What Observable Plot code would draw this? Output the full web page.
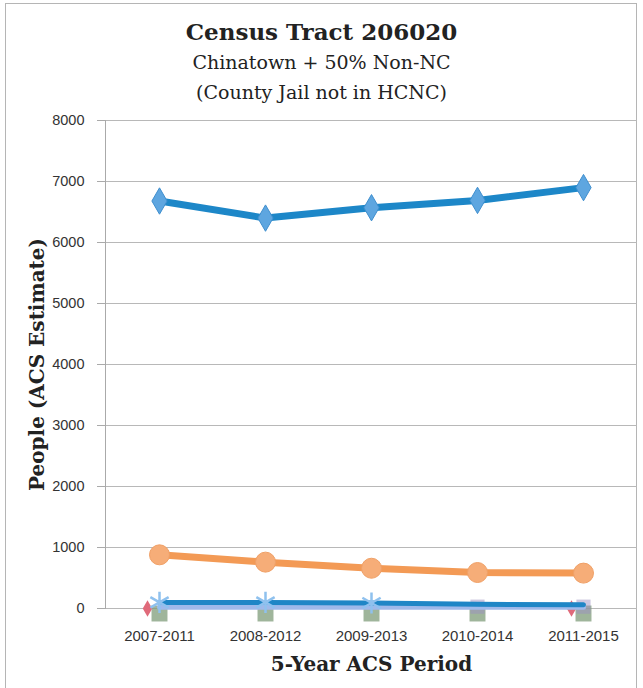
<!DOCTYPE html>
<html>
<head>
<meta charset="utf-8">
<script src="https://cdn.jsdelivr.net/npm/d3@7"></script>
<script src="https://cdn.jsdelivr.net/npm/@observablehq/plot@0.6"></script>
<style>
  body { margin: 0; background: #fff; }
  #wrap { position: relative; width: 643px; height: 688px; overflow: hidden; background: #fff; }
  #frame { position: absolute; left: 5px; top: 3px; width: 632px; height: 690px; border: 1.5px solid #b5b5b5; box-sizing: border-box; }
  .t { position: absolute; left: 0; width: 643px; text-align: center; font-family: "DejaVu Serif", "Liberation Serif", serif; color: #222; white-space: nowrap; }
  #title { top: 16px; font-size: 23px; font-weight: bold; line-height: 32px; }
  #sub1 { top: 50px; font-size: 19px; line-height: 24px; }
  #sub2 { top: 80px; font-size: 19px; line-height: 24px; }
  #chart { position: absolute; left: 0; top: 100px; }
  #chart svg { overflow: visible; }
  #chart [aria-label="y-axis label"] text,
  #chart [aria-label="x-axis label"] text { font-family: "DejaVu Serif", "Liberation Serif", serif; font-weight: bold; font-size: 20px; fill: #222; }
</style>
</head>
<body>
<div id="wrap">
  <div id="frame"></div>
  <div class="t" id="title">Census Tract 206020</div>
  <div class="t" id="sub1">Chinatown + 50% Non-NC</div>
  <div class="t" id="sub2">(County Jail not in HCNC)</div>
  <div id="chart"></div>
</div>
<script>
const periods = ["2007-2011", "2008-2012", "2009-2013", "2010-2014", "2011-2015"];
const yTicks = [0, 1000, 2000, 3000, 4000, 5000, 6000, 7000, 8000];

const totalPop = [6680, 6400, 6570, 6690, 6900];
const orangeSeries = [880, 760, 660, 590, 580];
const darkBlueSeries = [100, 100, 90, 70, 60];
const lavenderSeries = [20, 20, 20, 20, 20];
const greenSeries = [0, 0, 0, 0, 0];
const purpleSeries = [30, 30, 30, 30, 30];
const redSeries = [0, 0, 0, 0, 0];

const rows = (vals) => periods.map((p, i) => ({ period: p, value: vals[i] }));

const chart = Plot.plot({
  width: 643,
  height: 588,
  marginTop: 20,
  marginBottom: 80,
  marginLeft: 105,
  marginRight: 6,
  style: { fontFamily: "'Liberation Sans Narrow', 'Liberation Sans', Arial, sans-serif", fontSize: "14px", color: "#333", background: "transparent" },
  x: { type: "point", domain: periods, padding: 0.5, label: "5-Year ACS Period" },
  y: { domain: [0, 8000], ticks: yTicks, label: "People (ACS Estimate)" },
  marks: [
    Plot.gridY(yTicks, { stroke: "#b8b8b8", strokeOpacity: 1, strokeWidth: 1 }),
    Plot.frame({ anchor: "left", stroke: "#aaa" }),
    Plot.axisY({ ticks: yTicks, tickSize: 8, tickPadding: 13, stroke: "#aaa", tickFormat: d => String(d), label: "People (ACS Estimate)", labelAnchor: "center", labelArrow: false, labelOffset: 76, fontSize: 14.5 }),
    Plot.axisX({ tickSize: 0, tickPadding: 22, label: "5-Year ACS Period", labelAnchor: "center", labelArrow: false, labelOffset: 62, fontSize: 15 }),
    // near-zero series
    Plot.dot(rows(greenSeries), { x: "period", y: "value", symbol: "square", r: 9, fill: "#7f9c7a", fillOpacity: 0.75, dy: 5 }),
    Plot.dot(rows(purpleSeries), { x: "period", y: "value", symbol: "square", r: 8, fill: "#9c8fc2", fillOpacity: 0.5, filter: (d, i) => i >= 3 }),
    Plot.dot(rows(redSeries), { x: "period", y: "value", symbol: "diamond", r: 5, fill: "#e06a7a", filter: (d, i) => i === 0 || i === 4, dx: -12 }),
    Plot.line(rows(lavenderSeries), { x: "period", y: "value", stroke: "#9fb9ea", strokeWidth: 5 }),
    Plot.line(rows(darkBlueSeries), { x: "period", y: "value", stroke: "#1f86c6", strokeWidth: 5 }),
    Plot.dot(rows(darkBlueSeries), { x: "period", y: "value", symbol: "asterisk", r: 10, stroke: "#8fc1ee", strokeWidth: 2.5, filter: (d, i) => i <= 2 }),
    // orange series
    Plot.line(rows(orangeSeries), { x: "period", y: "value", stroke: "#f39a55", strokeWidth: 7 }),
    Plot.dot(rows(orangeSeries), { x: "period", y: "value", r: 10, fill: "#f6ad78", stroke: "#f0a066", strokeWidth: 1 }),
    // top blue series
    Plot.line(rows(totalPop), { x: "period", y: "value", stroke: "#1d87c8", strokeWidth: 7 }),
    Plot.dot(rows(totalPop), { x: "period", y: "value", symbol: "diamond", r: 8, fill: "#5ea6e0", stroke: "#3f8fcf", strokeWidth: 1 })
  ]
});
document.getElementById("chart").appendChild(chart);
</script>
</body>
</html>
